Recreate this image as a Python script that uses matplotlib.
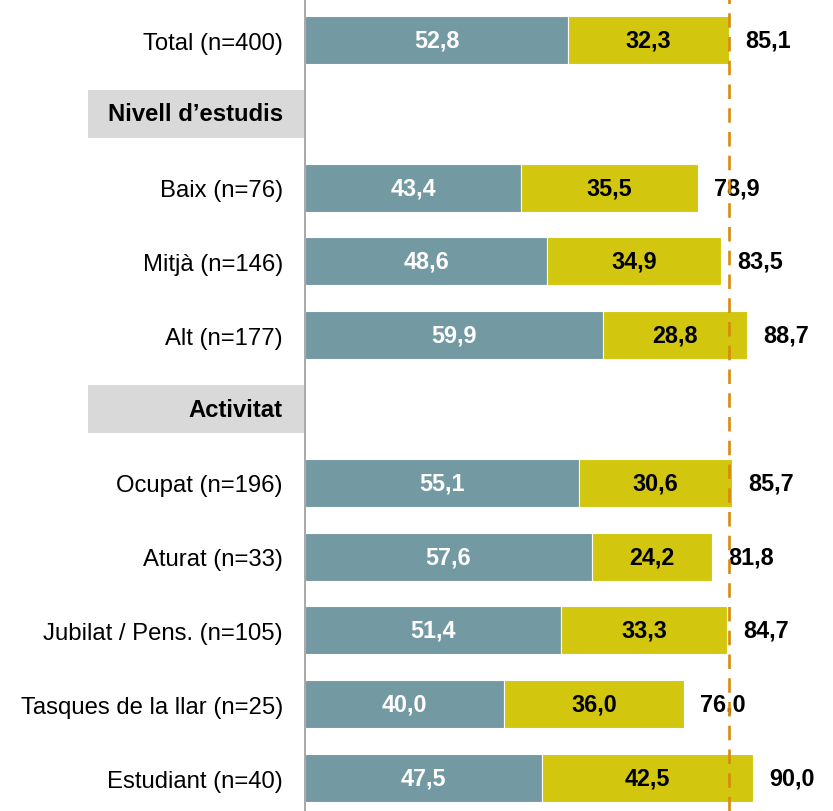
import matplotlib
matplotlib.use("Agg")
import matplotlib.pyplot as plt
import matplotlib.transforms as mtrans
from matplotlib.patches import Rectangle

plt.rcParams['font.family'] = ['Liberation Sans', 'DejaVu Sans']

# dades
rows = ["Total (n=400)", "Nivell d\u2019estudis", "Baix (n=76)", "Mitjà (n=146)", "Alt (n=177)",
        "Activitat", "Ocupat (n=196)", "Aturat (n=33)", "Jubilat / Pens. (n=105)",
        "Tasques de la llar (n=25)", "Estudiant (n=40)"]
headers = ["Nivell d\u2019estudis", "Activitat"]
part1 = [52.8, None, 43.4, 48.6, 59.9, None, 55.1, 57.6, 51.4, 40.0, 47.5]
part2 = [32.3, None, 35.5, 34.9, 28.8, None, 30.6, 24.2, 33.3, 36.0, 42.5]
totals = [85.1, None, 78.9, 83.5, 88.7, None, 85.7, 81.8, 84.7, 76.0, 90.0]
ref_line = 85.1

c1 = "#7399A3"
c2 = "#D2C60E"
c_line = "#D98A0B"

fig = plt.figure(figsize=(8.33, 8.12), dpi=100)
ax = fig.add_axes([305 / 833, 0, 528 / 833, 1])

h = 0.65
fs = 17.2   # etiquetes
fsv = 16.8  # valors
for i, lab in enumerate(rows):
    if lab in headers:
        tr = mtrans.blended_transform_factory(ax.transAxes, ax.transData)
        ax.add_patch(Rectangle((-0.411, i - h / 2), 0.409, h, transform=tr,
                               facecolor="#D9D9D9", edgecolor="none", clip_on=False))
        ax.text(-0.042, i, lab, transform=tr, ha="right", va="center",
                fontsize=fs, fontweight="bold")
        continue
    a, b, t = part1[i], part2[i], totals[i]
    ax.barh(i, a, height=h, color=c1, edgecolor="white", linewidth=0.8)
    ax.barh(i, b, left=a, height=h, color=c2, edgecolor="white", linewidth=0.8)
    ax.text(a / 2, i, f"{a:.1f}".replace(".", ","), ha="center", va="center",
            color="white", fontsize=fsv, fontweight="bold")
    ax.text(a + b / 2, i, f"{b:.1f}".replace(".", ","), ha="center", va="center",
            color="black", fontsize=fsv, fontweight="bold")
    ax.text(t + 3.2, i, f"{t:.1f}".replace(".", ","), ha="left", va="center",
            color="black", fontsize=fsv, fontweight="bold")

ax.axvline(ref_line, color=c_line, linestyle=(0, (5.5, 3.5)), linewidth=1.9, zorder=5)

ax.set_xlim(0, 106)
ax.set_ylim(10.447, -0.556)
ax.set_yticks([i for i, r in enumerate(rows) if r not in headers])
ax.set_yticklabels([r for r in rows if r not in headers], fontsize=fs)
ax.tick_params(axis="y", length=0, pad=16)
ax.set_xticks([])
for s in ["top", "right", "bottom"]:
    ax.spines[s].set_visible(False)
ax.spines["left"].set_color("#999999")
ax.spines["left"].set_linewidth(1.2)

fig.savefig("out.png", dpi=100)
